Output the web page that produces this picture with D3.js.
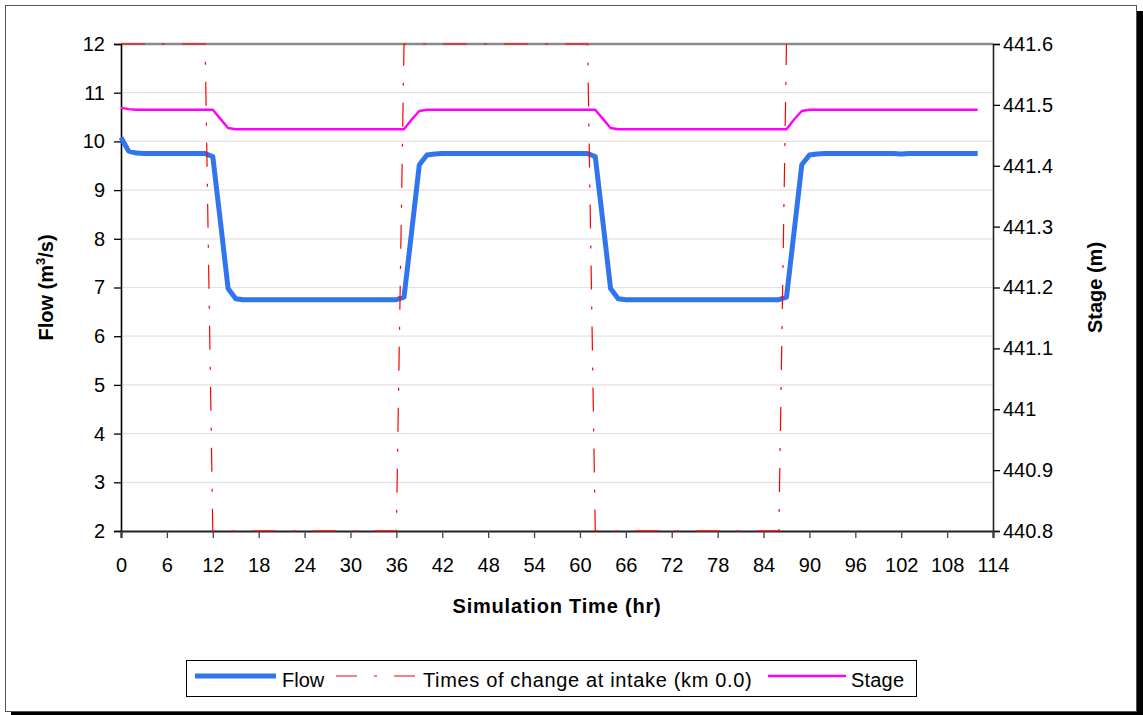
<!DOCTYPE html>
<html>
<head>
<meta charset="utf-8">
<script src="https://cdn.jsdelivr.net/npm/d3@7"></script>
<style>
  html, body { margin: 0; padding: 0; background: #fff; }
  svg { display: block; font-family: "Liberation Sans", Arial, sans-serif; }
</style>
</head>
<body>
<svg id="chart" width="1143" height="715"></svg>
<script>
// Hourly simulation output (hours 0..112)
const hours = d3.range(0, 113);

const flow = [
  10.08, 9.80, 9.76, 9.75, 9.75, 9.75, 9.75, 9.75, 9.75, 9.75, 9.75, 9.75,
  9.69, 8.35, 6.98, 6.77,
  6.75, 6.75, 6.75, 6.75, 6.75, 6.75, 6.75, 6.75, 6.75, 6.75, 6.75,
  6.75, 6.75, 6.75, 6.75, 6.75, 6.75, 6.75, 6.75, 6.75, 6.75,
  6.80, 8.15, 9.52, 9.72, 9.74,
  9.75, 9.75, 9.75, 9.75, 9.75, 9.75, 9.75, 9.75, 9.75, 9.75,
  9.75, 9.75, 9.75, 9.75, 9.75, 9.75, 9.75, 9.75, 9.75, 9.75,
  9.69, 8.35, 6.98, 6.77,
  6.75, 6.75, 6.75, 6.75, 6.75, 6.75, 6.75, 6.75, 6.75, 6.75, 6.75,
  6.75, 6.75, 6.75, 6.75, 6.75, 6.75, 6.75, 6.75, 6.75, 6.75,
  6.80, 8.15, 9.52, 9.72, 9.74,
  9.75, 9.75, 9.75, 9.75, 9.75, 9.75, 9.75, 9.75, 9.75, 9.75, 9.74,
  9.75, 9.75, 9.75, 9.75, 9.75, 9.75, 9.75, 9.75, 9.75, 9.75
];

const stage = [
  441.495, 441.493,
  441.492, 441.492, 441.492, 441.492, 441.492, 441.492, 441.492, 441.492, 441.492, 441.492, 441.492,
  441.477, 441.462,
  441.460, 441.460, 441.460, 441.460, 441.460, 441.460, 441.460, 441.460, 441.460, 441.460, 441.460, 441.460,
  441.460, 441.460, 441.460, 441.460, 441.460, 441.460, 441.460, 441.460, 441.460, 441.460, 441.460,
  441.476, 441.490, 441.492,
  441.492, 441.492, 441.492, 441.492, 441.492, 441.492, 441.492, 441.492, 441.492, 441.492, 441.492,
  441.492, 441.492, 441.492, 441.492, 441.492, 441.492, 441.492, 441.492, 441.492, 441.492, 441.492,
  441.477, 441.462,
  441.460, 441.460, 441.460, 441.460, 441.460, 441.460, 441.460, 441.460, 441.460, 441.460, 441.460, 441.460,
  441.460, 441.460, 441.460, 441.460, 441.460, 441.460, 441.460, 441.460, 441.460, 441.460, 441.460,
  441.476, 441.490,
  441.492, 441.492, 441.492, 441.492, 441.492, 441.492, 441.492, 441.492, 441.492, 441.492, 441.492, 441.492,
  441.492, 441.492, 441.492, 441.492, 441.492, 441.492, 441.492, 441.492, 441.492, 441.492, 441.492
];

// Gate operation marker: high/low switching at the intake (km 0.0)
const changeTimes = [0, 11, 12, 36, 37, 61, 62, 86, 87];
const changeLevel = [12, 12, 2, 2, 12, 12, 2, 2, 12];

const xTicks = d3.range(0, 115, 6);
const flowTicks = [2, 3, 4, 5, 6, 7, 8, 9, 10, 11, 12];
const stageTicks = [440.8, 440.9, 441.0, 441.1, 441.2, 441.3, 441.4, 441.5, 441.6];

const legendLabels = ["Flow", "Times of change at intake (km 0.0)", "Stage"];

const svg = d3.select("#chart");
const W = 1143, H = 715;
const plot = { left: 121, right: 993, top: 44, bottom: 531 };

const x = d3.scaleLinear().domain([0, 114]).range([plot.left, plot.right]);
const yFlow = d3.scaleLinear().domain([2, 12]).range([plot.bottom, plot.top]);
const yStage = d3.scaleLinear().domain([440.8, 441.6]).range([plot.bottom, plot.top]);

// Outer frame with drop shadow
svg.append("rect").attr("x", 11).attr("y", 11).attr("width", W - 11).attr("height", H - 11).attr("fill", "#000");
svg.append("rect").attr("x", 5.5).attr("y", 5.5).attr("width", 1131).attr("height", 706)
  .attr("fill", "#fff").attr("stroke", "#555").attr("stroke-width", 1);

// Horizontal gridlines
svg.append("g").selectAll("line").data(flowTicks.slice(1, -1)).join("line")
  .attr("x1", plot.left).attr("x2", plot.right)
  .attr("y1", d => yFlow(d)).attr("y2", d => yFlow(d))
  .attr("stroke", "#e2e2e2").attr("stroke-width", 1.2);

// Top border of plot area
svg.append("line").attr("x1", plot.left).attr("x2", plot.right)
  .attr("y1", plot.top).attr("y2", plot.top)
  .attr("stroke", "#8a8a8a").attr("stroke-width", 2.5);

const fontSize = 20;

// Left axis (flow)
const gL = svg.append("g").attr("transform", `translate(${plot.left},0)`)
  .call(d3.axisLeft(yFlow).tickValues(flowTicks).tickSize(7).tickPadding(9).tickFormat(d3.format("d")));
// Right axis (stage)
const gR = svg.append("g").attr("transform", `translate(${plot.right},0)`)
  .call(d3.axisRight(yStage).tickValues(stageTicks).tickSize(7).tickPadding(3).tickFormat(d => +d.toFixed(1) + ""));
// Bottom axis (time)
const gB = svg.append("g").attr("transform", `translate(0,${plot.bottom})`)
  .call(d3.axisBottom(x).tickValues(xTicks).tickSize(7).tickPadding(20).tickFormat(d3.format("d")));

[gL, gR, gB].forEach(g => {
  g.selectAll("text").attr("font-size", fontSize).attr("fill", "#000")
    .attr("font-family", "'Liberation Sans', Arial, sans-serif");
  g.selectAll("line").attr("stroke", "#000").attr("stroke-width", 1.3);
});
gL.select(".domain").attr("stroke", "#000").attr("stroke-width", 1.6);
gR.select(".domain").attr("stroke", "#222").attr("stroke-width", 1.6);
gB.select(".domain").attr("stroke", "#222").attr("stroke-width", 2.2);
gB.selectAll(".tick line").attr("stroke", "#444");

// Series
const flowLine = d3.line().x((d, i) => x(hours[i])).y(d => yFlow(d));
const stageLine = d3.line().x((d, i) => x(hours[i])).y(d => yStage(d));
const changeLine = d3.line().x((d, i) => x(changeTimes[i])).y(d => yFlow(d));

const dashPattern = "24,17,3,17";

svg.append("path").datum(flow).attr("d", flowLine)
  .attr("fill", "none").attr("stroke", "#3174f0").attr("stroke-width", 5)
  .attr("stroke-linejoin", "round");

svg.append("path").datum(changeLevel).attr("d", changeLine)
  .attr("fill", "none").attr("stroke", "#ff0000").attr("stroke-width", 1.2)
  .attr("stroke-dasharray", dashPattern);

svg.append("path").datum(stage).attr("d", stageLine)
  .attr("fill", "none").attr("stroke", "#ff00ff").attr("stroke-width", 2.4)
  .attr("stroke-linejoin", "round");

// Axis titles
svg.append("text").attr("x", 557).attr("y", 613)
  .attr("text-anchor", "middle").attr("font-weight", "bold").attr("font-size", fontSize)
  .attr("letter-spacing", 0.8)
  .text("Simulation Time (hr)");

const flowTitle = svg.append("text")
  .attr("transform", `translate(53,${(plot.top + plot.bottom) / 2}) rotate(-90)`)
  .attr("text-anchor", "middle").attr("font-weight", "bold").attr("font-size", fontSize);
flowTitle.append("tspan").text("Flow (m");
flowTitle.append("tspan").attr("font-size", 13).attr("dy", -8).text("3");
flowTitle.append("tspan").attr("dy", 8).text("/s)");

svg.append("text")
  .attr("transform", `translate(1102,${(plot.top + plot.bottom) / 2}) rotate(-90)`)
  .attr("text-anchor", "middle").attr("font-weight", "bold").attr("font-size", fontSize)
  .text("Stage (m)");

// Legend
const lg = svg.append("g");
lg.append("rect").attr("x", 186.5).attr("y", 660.5).attr("width", 730).attr("height", 36)
  .attr("fill", "#fff").attr("stroke", "#000").attr("stroke-width", 1);

const legendItems = [
  { label: legendLabels[0], x0: 195, x1: 276, tx: 282, color: "#3174f0", width: 5, dash: null, ls: 0 },
  { label: legendLabels[1], x0: 336, x1: 416, tx: 423, color: "#ff0000", width: 1.2, dash: "21,17,3,17", ls: 0.65 },
  { label: legendLabels[2], x0: 768, x1: 846, tx: 851, color: "#ff00ff", width: 2.4, dash: null, ls: 0.2 }
];
legendItems.forEach(it => {
  lg.append("line").attr("x1", it.x0).attr("x2", it.x1).attr("y1", 676).attr("y2", 676)
    .attr("stroke", it.color).attr("stroke-width", it.width)
    .attr("stroke-dasharray", it.dash);
  lg.append("text").attr("x", it.tx).attr("y", 687).attr("font-size", fontSize)
    .attr("letter-spacing", it.ls).text(it.label);
});
</script>
</body>
</html>
